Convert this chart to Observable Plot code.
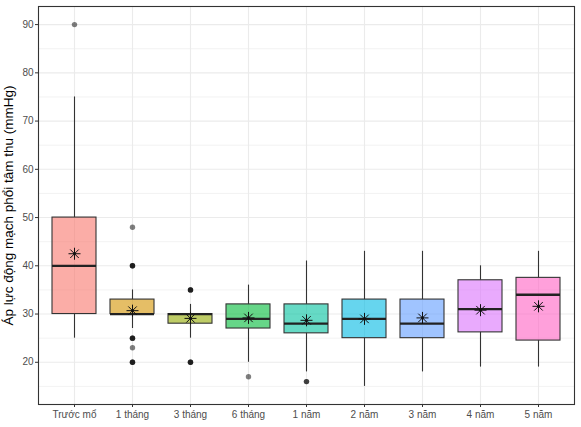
<!DOCTYPE html>
<html>
<head>
<meta charset="utf-8">
<script src="https://cdn.jsdelivr.net/npm/d3@7"></script>
<script src="https://cdn.jsdelivr.net/npm/@observablehq/plot@0.6"></script>
<style>
  html, body { margin: 0; padding: 0; background: #fff; }
  #chart svg { display: block; }
  g[aria-label="y-axis label"] text { fill: #000 !important; font-size: 13.5px !important; }
  g[aria-label="y-axis tick"], g[aria-label="x-axis tick"] { stroke: #333; }
</style>
</head>
<body>
<div id="chart"></div>
<script>
const groups   = ["Trước mổ","1 tháng","3 tháng","6 tháng","1 năm","2 năm","3 năm","4 năm","5 năm"];
const colors   = ["#F8766D","#D39200","#93AA00","#00BA38","#00C19F","#00B9E3","#619CFF","#DB72FB","#FF61C3"];
const lower    = [25, 27, 25, 20, 18, 15, 18, 19, 19];
const q1       = [30, 30, 28, 27, 26, 25, 25, 26.2, 24.5];
const median   = [40, 30, 30, 29, 28, 29, 28, 31, 34];
const q3       = [50, 33, 30, 32, 32, 33, 33, 37, 37.5];
const upper    = [75, 35, 32, 36, 41, 43, 43, 40, 43];
const means    = [42.5, 30.7, 29.1, 29.2, 28.7, 29.0, 29.2, 30.8, 31.6];
const outlierGroup = ["Trước mổ","1 tháng","1 tháng","1 tháng","1 tháng","1 tháng","3 tháng","3 tháng","6 tháng","1 năm"];
const outlierValue = [90, 48, 40, 25, 23, 20, 35, 20, 17, 16];
const outlierCount = [1, 1, 3, 3, 1, 3, 3, 3, 1, 2];
const yTicks      = [20, 30, 40, 50, 60, 70, 80, 90];
const yMinorTicks = [15, 25, 35, 45, 55, 65, 75, 85];
const yLabel = "Áp lực động mạch phổi tâm thu (mmHg)";

const boxes = groups.map((g, i) => ({g, lo: lower[i], q1: q1[i], med: median[i], q3: q3[i], hi: upper[i], mean: means[i]}));
const outliers = [];
outlierGroup.forEach((g, i) => { for (let k = 0; k < outlierCount[i]; k++) outliers.push({g, v: outlierValue[i]}); });

const asterisk = {
  draw(ctx, size) {
    const r = Math.sqrt(size / Math.PI);
    const d = r * Math.SQRT1_2;
    ctx.moveTo(-r, 0); ctx.lineTo(r, 0);
    ctx.moveTo(0, -r); ctx.lineTo(0, r);
    ctx.moveTo(-d, -d); ctx.lineTo(d, d);
    ctx.moveTo(-d, d); ctx.lineTo(d, -d);
  }
};

const chart = Plot.plot({
  width: 581,
  height: 427,
  marginLeft: 38,
  marginRight: 7,
  marginTop: 6,
  marginBottom: 23,
  style: {fontFamily: "'Liberation Sans', Arial, sans-serif", fontSize: "10px", background: "#fff"},
  x: {type: "band", domain: groups, paddingInner: 0.25, paddingOuter: 0.225},
  y: {domain: [11.25, 93.75]},
  color: {domain: groups, range: colors},
  marks: [
    Plot.gridY(yMinorTicks, {stroke: "#ebebeb", strokeOpacity: 1, strokeWidth: 0.6}),
    Plot.gridY(yTicks, {stroke: "#ebebeb", strokeOpacity: 1, strokeWidth: 1.1}),
    Plot.gridX(groups, {stroke: "#ebebeb", strokeOpacity: 1, strokeWidth: 1.1}),
    Plot.ruleX(boxes, {x: "g", y1: "lo", y2: "q1", stroke: "#333", strokeWidth: 1.1}),
    Plot.ruleX(boxes, {x: "g", y1: "q3", y2: "hi", stroke: "#333", strokeWidth: 1.1}),
    Plot.barY(boxes, {x: "g", y1: "q1", y2: "q3", fill: "g", fillOpacity: 0.6, stroke: "#333", strokeWidth: 1.1}),
    Plot.tickY(boxes, {x: "g", y: "med", stroke: "#222", strokeWidth: 2.3}),
    Plot.dot(outliers, {x: "g", y: "v", r: 2.7, fill: "#000", fillOpacity: 0.5, stroke: "none"}),
    Plot.dot(boxes, {x: "g", y: "mean", r: 6, symbol: asterisk, stroke: "#111", strokeWidth: 1, fill: "none"}),
    Plot.dot(boxes, {x: "g", y: "mean", r: 1.4, fill: "#111", stroke: "none"}),
    Plot.frame({stroke: "#333", strokeWidth: 1.1}),
    Plot.axisY({ticks: yTicks, tickSize: 3, tickPadding: 2, color: "#4d4d4d", label: yLabel, labelAnchor: "center", labelArrow: "none", labelOffset: 35}),
    Plot.axisX({tickSize: 3, tickPadding: 3, color: "#4d4d4d", label: null})
  ]
});
document.getElementById("chart").appendChild(chart);
</script>
</body>
</html>
